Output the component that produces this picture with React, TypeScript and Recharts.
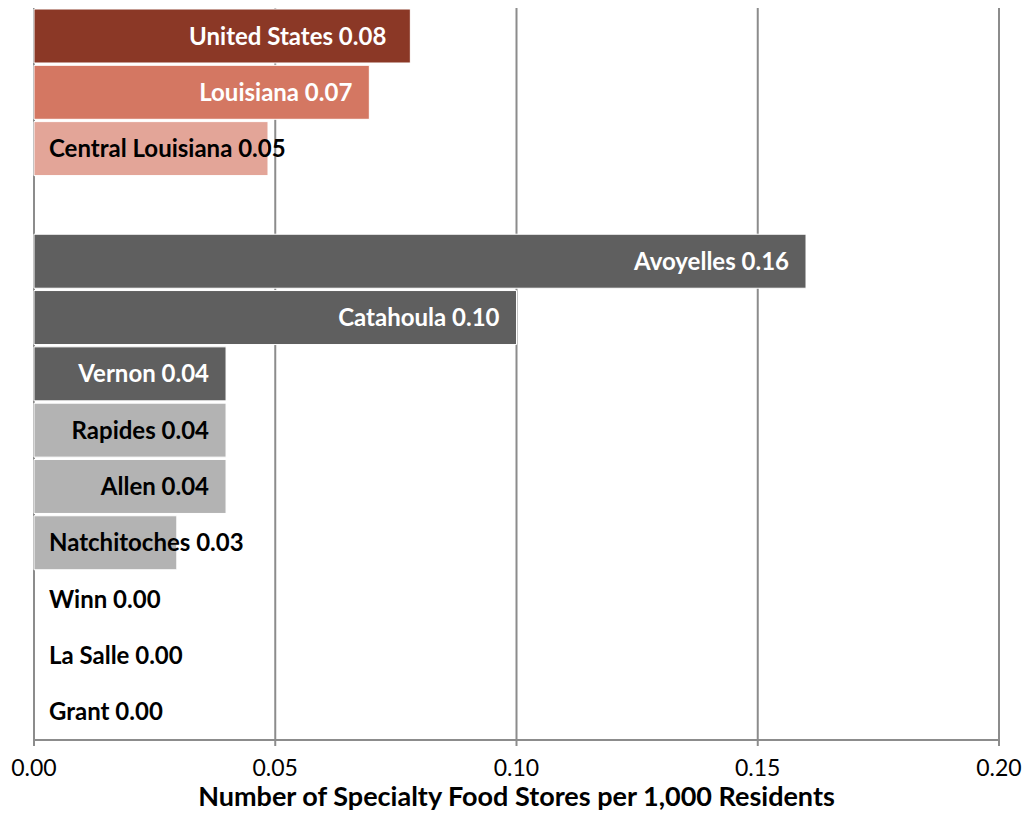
import { BarChart, Bar, XAxis, YAxis, CartesianGrid, Cell, LabelList } from 'recharts';

const categories = [
    'United States',
    'Louisiana',
    'Central Louisiana',
    '',
    'Avoyelles',
    'Catahoula',
    'Vernon',
    'Rapides',
    'Allen',
    'Natchitoches',
    'Winn',
    'La Salle',
    'Grant',
];
const values: (number | null)[] = [0.078, 0.0695, 0.0485, null, 0.16, 0.1, 0.0398, 0.0398, 0.0398, 0.0296, 0, 0, 0];
const barColors = ['#8b3826', '#d47762', '#e3a598', '#ffffff', '#5f5f5f', '#5f5f5f', '#5f5f5f', '#b3b3b3', '#b3b3b3', '#b3b3b3', '#b3b3b3', '#b3b3b3', '#b3b3b3'];
const labelColors = ['#ffffff', '#ffffff', '#000000', '#000000', '#ffffff', '#ffffff', '#ffffff', '#000000', '#000000', '#000000', '#000000', '#000000', '#000000'];
const xTicks = [0, 0.05, 0.1, 0.15, 0.2];

const data = categories.map((name, i) => ({ name, value: values[i], idx: i }));

const FONT = 'Lato, "Open Sans", sans-serif';
const LABEL_SIZE = 24;

let ctx: CanvasRenderingContext2D | null = null;
function textWidth(text: string) {
    if (!ctx) ctx = document.createElement('canvas').getContext('2d');
    if (!ctx) return text.length * LABEL_SIZE * 0.55;
    ctx.font = `bold ${LABEL_SIZE}px Lato`;
    return ctx.measureText(text).width;
}

// value here is the row index (LabelList dataKey="idx")
function BarLabel(props: any) {
    const { x, y, height } = props;
    const i = Number(props.value);
    const v = values[i];
    if (v === null || v === undefined) return null;
    const width = v === 0 ? 0 : props.width;
    const text = `${categories[i]} ${v.toFixed(2)}`;
    const w = textWidth(text);
    const pad = i === 0 ? 24 : 17;
    const fits = w + pad * 2 <= width;
    const tx = fits ? x + width - pad : x + 15;
    return (
        <text
            x={tx}
            y={y + height / 2}
            dy="0.36em"
            textAnchor={fits ? 'end' : 'start'}
            fill={labelColors[i]}
            fontFamily={FONT}
            fontWeight="bold"
            fontSize={LABEL_SIZE}
        >
            {text}
        </text>
    );
}

export default function App() {
    return (
        <div style={{ position: 'absolute', left: 8, top: 8, width: 1016, height: 806 }}>
            <BarChart
                width={1016}
                height={806}
                data={data}
                layout="vertical"
                margin={{ top: 0, right: 25, left: 26, bottom: 0 }}
                barCategoryGap={1}
            >
                <CartesianGrid horizontal={false} vertical stroke="#8c8c8c" strokeWidth={2} />
                <XAxis
                    type="number"
                    domain={[0, 0.2]}
                    ticks={xTicks}
                    tickFormatter={(v) => Number(v).toFixed(2)}
                    stroke="#8c8c8c"
                    strokeWidth={2}
                    tickSize={6}
                    tickMargin={14}
                    height={74}
                    tick={{ fill: '#000000', fontSize: 23, fontFamily: FONT }}
                    label={{
                        value: 'Number of Specialty Food Stores per 1,000 Residents',
                        position: 'insideBottom',
                        offset: 8,
                        fill: '#000000',
                        fontSize: 27,
                        fontWeight: 'bold',
                        fontFamily: FONT,
                    }}
                />
                <YAxis type="category" dataKey="name" hide />
                <Bar
                    dataKey="value"
                    stroke="#ffffff"
                    strokeWidth={1}
                    minPointSize={(v: any) => (v === 0 ? 1 : 0)}
                    isAnimationActive={false}
                >
                    {data.map((d) => (
                        <Cell
                            key={d.idx}
                            fill={d.value === 0 ? 'transparent' : barColors[d.idx]}
                            stroke={d.value === 0 ? 'none' : '#ffffff'}
                        />
                    ))}
                    <LabelList dataKey="idx" content={BarLabel} />
                </Bar>
            </BarChart>
        </div>
    );
}
